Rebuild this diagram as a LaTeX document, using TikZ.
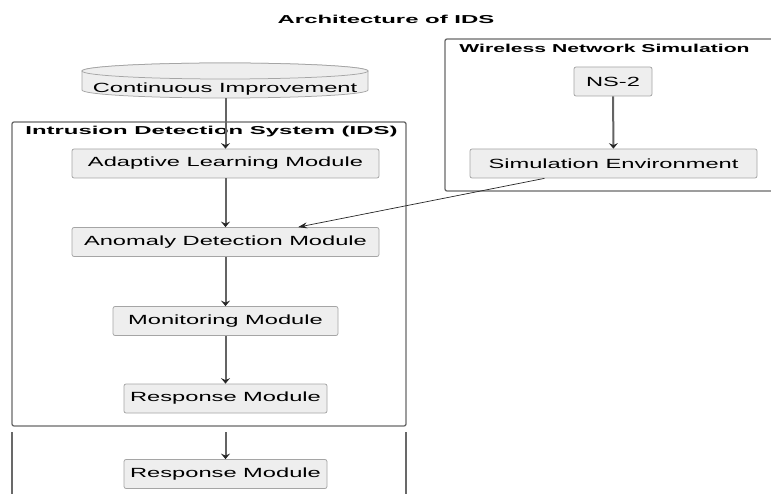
\documentclass[tikz,border=0pt]{standalone}
\usepackage{fontspec}
\usetikzlibrary{arrows.meta,calc}
\newfontfamily\boxfont[FakeStretch=1.78]{Liberation Sans}
\newfontfamily\headfont[FakeStretch=2.08]{Liberation Sans}
\newfontfamily\wlfont[FakeStretch=1.84]{Liberation Sans}

\definecolor{boxfill}{RGB}{238,238,238}
\definecolor{boxline}{RGB}{165,165,165}
\definecolor{frameline}{RGB}{105,105,105}
\definecolor{flowline}{RGB}{100,100,100}

\tikzset{every picture/.style={line width=0.75pt}}
\tikzset{
	modbox/.style={draw=boxline, fill=boxfill, rounded corners=2pt, minimum height=29, inner sep=0pt, font=\boxfont\fontsize{13.3}{15}\selectfont},
	frame/.style={draw=frameline, line width=1.3pt, rounded corners=2pt},
	headtext/.style={font=\headfont\bfseries\fontsize{11.5}{13}\selectfont, inner sep=0pt},
	flow/.style={draw=flowline, line width=2pt, -{Stealth[length=5.5pt,width=9pt,inset=2pt,color=black!85]}},
	link/.style={draw=black!85, line width=0.7pt, -{Stealth[length=9pt,width=6pt]}}
}

\begin{document}
\begin{tikzpicture}[x=1pt,y=1pt,yscale=-1,xscale=1]
	\clip (0,0) rectangle (771,494); %picture is 771 by 494

	% Text Node
	\node (title) [headtext] at (386,19) {Architecture of IDS};

	%Shape: Can [id:continuous]
	\draw [draw=boxline, fill=boxfill] (82,71) -- (82,90) arc [start angle=180, end angle=0, x radius=143, y radius=8] -- (368,71) arc [start angle=0, end angle=-180, x radius=143, y radius=8] -- cycle ;
	\draw [draw=boxline, fill=boxfill] (225,71) ellipse [x radius=143, y radius=8] ;
	\node (improve) [font=\boxfont\fontsize{13.3}{15}\selectfont] at (225,89) {Continuous Improvement};
	\coordinate (improvebot) at (225.5,98);

	%Shape: Rectangle [id:ids]
	\draw [frame] (12,122) rectangle (406,426) ;
	\node (idstitle) [headtext, anchor=west] at (25,132) {Intrusion Detection System (IDS)};
	%Shape: Rectangle [id:ids2], only the sides show
	\draw [frame] (12,432) -- (12,500) ;
	\draw [frame] (406,432) -- (406,500) ;
	\coordinate (idsnext) at (225.5,432);

	%Shape: Rectangle [id:wireless]
	\draw [frame] (445,39) rectangle (800,191) ;
	\node (wltitle) [headtext, font=\wlfont\bfseries\fontsize{11.5}{13}\selectfont, anchor=west] at (459,48) {Wireless Network Simulation};

	% Text Node
	\node (adaptive) [modbox, minimum width=307] at (225.5,163.5) {Adaptive Learning Module};
	% Text Node
	\node (anomaly) [modbox, minimum width=307] at (225.5,242) {Anomaly Detection Module};
	% Text Node
	\node (monitor) [modbox, minimum width=225] at (225.5,321) {Monitoring Module};
	% Text Node
	\node (response) [modbox, minimum width=203] at (225.5,398.5) {Response Module};
	% Text Node
	\node (response2) [modbox, minimum width=203] at (225.5,474) {Response Module};
	% Text Node
	\node (ns2) [modbox, minimum width=78] at (613,81.5) {NS-2};
	% Text Node
	\node (simenv) [modbox, minimum width=287] at (613.5,163.5) {Simulation Environment};

	%Straight Lines
	\draw [flow] (improvebot) -- (adaptive) ;
	\draw [flow] (adaptive) -- (anomaly) ;
	\draw [flow] (anomaly) -- (monitor) ;
	\draw [flow] (monitor) -- (response) ;
	\draw [flow] (idsnext) -- (response2) ;
	\draw [flow] (ns2) -- (simenv) ;
	\draw [link] ($(simenv.south west)!0.26!(simenv.south east)$) -- ($(anomaly.north west)!0.736!(anomaly.north east)$) ;

\end{tikzpicture}
\end{document}
